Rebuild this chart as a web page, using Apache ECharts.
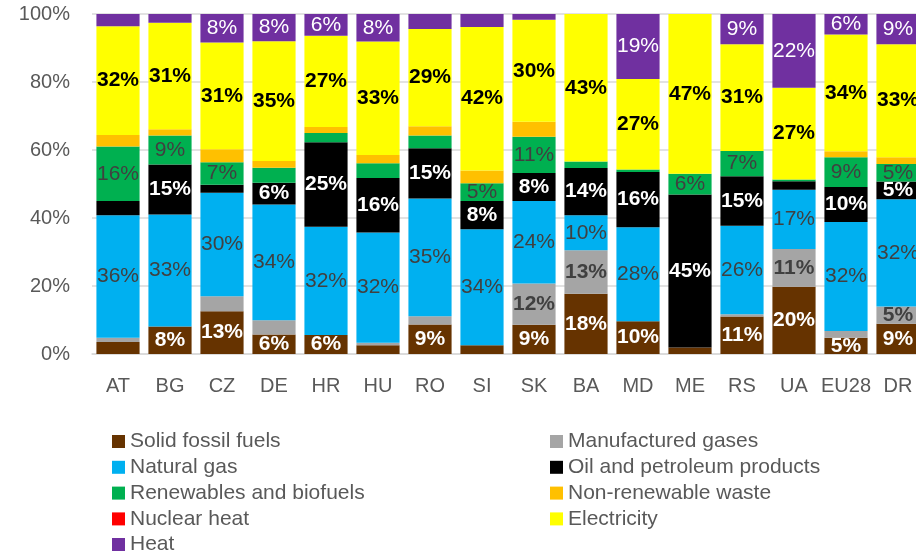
<!DOCTYPE html>
<html>
<head>
<meta charset="utf-8">
<script src="https://cdn.jsdelivr.net/npm/echarts@6/dist/echarts.min.js"></script>
<style>
html,body{margin:0;padding:0;background:#fff;}
#c{width:916px;height:554px;}
</style>
</head>
<body>
<div id="c"></div>
<script>
const categories = ['AT','BG','CZ','DE','HR','HU','RO','SI','SK','BA','MD','ME','RS','UA','EU28','DR'];
const solidFossil   = [3.5, 8.1, 12.6, 5.7, 5.6, 2.6, 8.7, 2.6, 8.6, 17.7, 9.6, 1.9, 11.0, 19.8, 4.8, 8.9];
const manufGases    = [1.3, 0,   4.4,  4.2, 0,   0.7, 2.4, 0,   12.1, 12.8, 0,  0,   0.7,  11.1, 2.0, 5.1];
const naturalGas    = [36.0,32.9,30.4, 34.1,31.8,32.4,34.6,34.1,24.3, 10.3, 27.7,0,   26.0, 17.4, 32.0,31.5];
const oilPetroleum  = [4.2, 14.7,2.4,  6.4, 24.9,16.1,14.8,8.3, 8.2,  13.9, 16.2,45.0,14.6, 2.5,  10.3,5.2];
const renewables    = [16.0,8.6, 6.6,  4.4, 2.7, 4.3, 3.8, 5.2, 10.7, 1.9,  0.8, 6.1, 7.4,  0.5,  8.8, 5.2];
const nonRenewWaste = [3.4, 1.8, 3.8,  2.0, 1.8, 2.4, 2.7, 3.8, 4.4,  0,    0,   0,   0,    0,    1.7, 2.0];
const nuclearHeat   = [0,   0,   0,    0,   0,   0,   0,   0,   0,    0,    0,   0,   0,    0,    0,   0];
const electricity   = [32.0,31.3,31.4, 35.2,26.8,33.4,28.6,42.2,30.0, 43.4, 26.6,47.0,31.4, 27.0, 34.4,33.2];
const heat          = [3.6, 2.6, 8.4,  8.0, 6.4, 8.1, 4.4, 3.8, 1.7,  0,    19.1,0,   8.9,  21.7, 6.0, 8.9];
const yTicks = [0,20,40,60,80,100];

const FONT = "'Liberation Sans', Arial, sans-serif";
const seriesDefs = [
  {name:'Solid fossil fuels', data:solidFossil, color:'#663300', lc:'#ffffff', bold:true},
  {name:'Manufactured gases', data:manufGases, color:'#A5A5A5', lc:'#404040', bold:true},
  {name:'Natural gas', data:naturalGas, color:'#00B0F0', lc:'#404040', bold:false},
  {name:'Oil and petroleum products', data:oilPetroleum, color:'#000000', lc:'#ffffff', bold:true},
  {name:'Renewables and biofuels', data:renewables, color:'#00B050', lc:'#404040', bold:false},
  {name:'Non-renewable waste', data:nonRenewWaste, color:'#FFC000', lc:'#404040', bold:false},
  {name:'Nuclear heat', data:nuclearHeat, color:'#FF0000', lc:'#ffffff', bold:false},
  {name:'Electricity', data:electricity, color:'#FFFF00', lc:'#000000', bold:true},
  {name:'Heat', data:heat, color:'#7030A0', lc:'#ffffff', bold:false}
];

const legendCol = (left, top, names) => ({
  orient:'vertical', left:left, top:top, padding:0, itemWidth:13, itemHeight:13, itemGap:4.8,
  icon:'rect', selectedMode:false,
  textStyle:{fontFamily:FONT, fontSize:21, color:'#595959', lineHeight:21},
  data:names
});

const chart = echarts.init(document.getElementById('c'), null, {renderer:'canvas'});
const option = {
  animation:false,
  grid:{left:92, width:832, top:14, height:340, containLabel:false, outerBoundsMode:'none'},
  legend:[
    legendCol(112, 431, ['Solid fossil fuels','Natural gas','Renewables and biofuels','Nuclear heat']),
    legendCol(112, 534, ['Heat']),
    legendCol(550, 431, ['Manufactured gases','Oil and petroleum products','Non-renewable waste','Electricity'])
  ],
  xAxis:{
    type:'category', data:categories,
    axisLine:{lineStyle:{color:'#D9D9D9', width:1.5}},
    axisTick:{show:false},
    axisLabel:{fontFamily:FONT, fontSize:20, color:'#595959', margin:22, interval:0}
  },
  yAxis:{
    type:'value', min:yTicks[0], max:yTicks[yTicks.length-1], interval:20,
    axisLine:{show:false}, axisTick:{show:false},
    splitLine:{lineStyle:{color:'#D9D9D9', width:1.5}},
    axisLabel:{fontFamily:FONT, fontSize:20, color:'#595959', margin:22, formatter:'{value}%'}
  },
  series: seriesDefs.map(d => ({
    name:d.name, type:'bar', stack:'total', data:d.data,
    barCategoryGap:'17%',
    itemStyle:{color:d.color},
    label:{
      show:true, position:'inside',
      fontFamily:FONT, fontSize:21, color:d.lc, fontWeight:d.bold?'bold':'normal',
      formatter: p => (p.value >= 4.5 ? Math.round(p.value) + '%' : '')
    },
    emphasis:{disabled:true}
  }))
};
chart.setOption(option);
</script>
</body>
</html>
